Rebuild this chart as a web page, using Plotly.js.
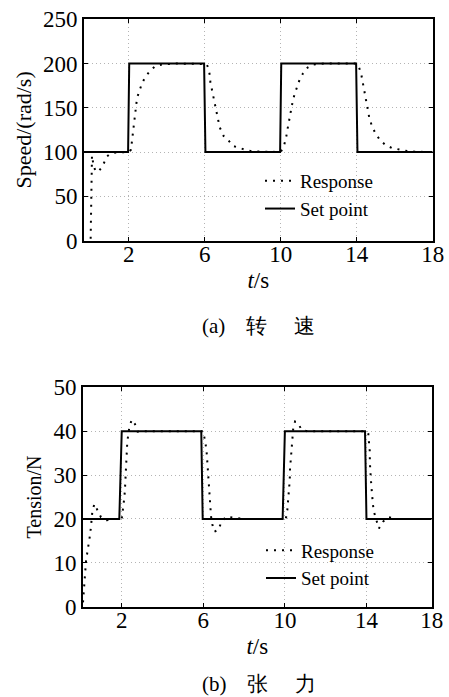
<!DOCTYPE html>
<html>
<head>
<meta charset="utf-8">
<script src="https://cdn.plot.ly/plotly-3.0.1.min.js"></script>
<style>html,body{margin:0;padding:0;background:#fff;}</style>
</head>
<body>
<div id="chart" style="width:449px;height:697px;"></div>
<script>
// ---- (a) Speed ----
const speedSetT = [-0.35, 1.97, 2.03, 5.97, 6.04, 9.97, 10.03, 13.97, 14.04, 18];
const speedSet  = [100, 100, 200, 200, 100, 100, 200, 200, 100, 100];

const speedRespT = [0, 0.02, 0.04, 0.06, 0.07, 0.1, 0.13, 0.18, 0.25, 0.35, 0.45, 0.6, 0.75, 0.86, 1.0, 1.13, 1.4, 1.7,
  2.0, 2.12, 2.21, 2.27, 2.32, 2.35, 2.4, 2.44, 2.58, 2.7, 2.88, 3.14, 3.4, 3.8, 4.5,
  6.0, 6.1, 6.18, 6.27, 6.3, 6.39, 6.47, 6.56, 6.65, 6.79, 7.0, 7.23, 7.47, 7.79, 8.14, 8.5, 9.0,
  10.0, 10.16, 10.28, 10.37, 10.46, 10.55, 10.63, 10.74, 10.86, 11.0, 11.18, 11.42, 11.74, 12.3,
  14.0, 14.1, 14.23, 14.32, 14.41, 14.5, 14.58, 14.67, 14.81, 14.99, 15.21, 15.51, 15.86, 16.3, 16.74, 17.3, 18];
const speedResp = [2, 25, 50, 75, 96, 92, 88, 82, 78, 78, 79, 83, 90, 95, 97.5, 98.7, 99.7, 100,
  100, 102.6, 118, 127, 136, 144, 151, 161, 170, 177.5, 185, 192, 197, 199, 200,
  200, 199.5, 195.5, 187, 179, 170, 161, 153, 144, 128, 118, 113.8, 107, 104.5, 102.6, 100.7, 100.2,
  100, 106, 115.7, 127, 138, 147.5, 157, 166, 174, 182, 189, 195.5, 199, 200,
  200, 197, 189, 179, 166, 157, 147.5, 138, 129, 121, 114, 108, 104.5, 102.6, 100.7, 100.2, 100];

// ---- (b) Tension ----
const tensSetT = [0, 1.88, 2.0, 5.9, 5.97, 9.89, 10.0, 13.93, 14.0, 17.2];
const tensSet  = [20, 20, 40, 40, 20, 20, 40, 40, 20, 20];

const tensRespT = [0.1, 0.14, 0.17, 0.2, 0.25, 0.3, 0.36, 0.41, 0.45, 0.49, 0.56, 0.66, 0.82, 0.98, 1.26, 1.6, 2.0,
  2.05, 2.11, 2.13, 2.16, 2.18, 2.2, 2.21, 2.24, 2.27, 2.32, 2.37, 2.49, 2.65, 2.78, 3.0,
  6.0, 6.08, 6.13, 6.17, 6.2, 6.21, 6.25, 6.28, 6.29, 6.33, 6.36, 6.38, 6.44, 6.54, 6.74, 6.87, 7.11, 7.47, 8.0,
  10.0, 10.05, 10.12, 10.17, 10.2, 10.24, 10.25, 10.28, 10.3, 10.33, 10.38, 10.41, 10.5, 10.66, 10.82, 11.1,
  14.0, 14.09, 14.12, 14.16, 14.17, 14.21, 14.22, 14.25, 14.28, 14.32, 14.37, 14.5, 14.61, 14.82, 15.07, 15.5, 17.2];
const tensResp = [1, 4, 7, 9, 10.5, 12, 13.5, 14.8, 16.5, 18.2, 21.8, 23.4, 21.8, 20.4, 19.7, 20, 20,
  21.6, 23.6, 25, 27, 28.9, 31.9, 33.8, 35.7, 37.4, 39.2, 40.9, 42.6, 41.6, 39.9, 40,
  40, 38, 36.5, 34.8, 32.8, 31.2, 29.3, 27.5, 25.8, 24.2, 22.4, 20.5, 18.8, 17.1, 17.5, 19.1, 20.5, 20.3, 20,
  20, 20.1, 22, 24.3, 26.6, 28.9, 31.2, 33.1, 35, 36.9, 38.8, 40.7, 42.2, 41.7, 40.3, 40,
  40, 39.5, 37.6, 35.7, 32.7, 30.8, 28.9, 27, 25, 23.2, 21.6, 19.4, 17.8, 19.4, 20.4, 20, 20];

const xTickValsTop = [2, 6, 10, 14, 18];
const xTickValsBot = [2, 6, 10, 14, 17.2];   // last label sits at the right end of the axis, as in the source
const xTickText = ['2', '6', '10', '14', '18'];
const seriesNames = ['Response', 'Set point'];
const yTitles = ['Speed/(rad/s)', 'Tension/N'];
const xTitle = '<i>t</i>/s';
const captions = ['(a)\u3000转\u3000\u00a0速', '(b)\u3000张\u3000\u00a0力'];

const respLine = {color: '#000', width: 2, dash: '2px,6px'};
const setLine = {color: '#000', width: 2};

const traces = [
  {x: speedRespT, y: speedResp, mode: 'lines', name: seriesNames[0], line: respLine, xaxis: 'x', yaxis: 'y', legend: 'legend'},
  {x: speedSetT, y: speedSet, mode: 'lines', name: seriesNames[1], line: setLine, xaxis: 'x', yaxis: 'y', legend: 'legend'},
  {x: tensRespT, y: tensResp, mode: 'lines', name: seriesNames[0], line: respLine, xaxis: 'x2', yaxis: 'y2', legend: 'legend2'},
  {x: tensSetT, y: tensSet, mode: 'lines', name: seriesNames[1], line: setLine, xaxis: 'x2', yaxis: 'y2', legend: 'legend2'},
  // empty traces that only carry the label-only x axes
  {x: [], y: [], xaxis: 'x3', yaxis: 'y', showlegend: false, hoverinfo: 'skip'},
  {x: [], y: [], xaxis: 'x4', yaxis: 'y2', showlegend: false, hoverinfo: 'skip'}
];

const fontFam = 'Liberation Serif';
const tickFont = {family: fontFam, size: 23, color: '#000'};
function axisBase() {
  return {
    showgrid: true, gridcolor: '#b4b4b4', griddash: '1px,3px', gridwidth: 1,
    zeroline: false, showline: true, linecolor: '#000', linewidth: 2, mirror: 'ticks',
    ticks: 'inside', ticklen: 4, tickwidth: 1, tickcolor: '#000',
    tickfont: tickFont
  };
}
function labelAxis(over, range, tickvals, pos) {
  return {
    overlaying: over, anchor: 'free', position: pos, range: range,
    tickmode: 'array', tickvals: tickvals, ticktext: xTickText,
    showgrid: false, zeroline: false, showline: false, ticks: '',
    tickfont: tickFont,
    title: {text: xTitle, font: {family: fontFam, size: 23}, standoff: 5}
  };
}

const W = 449, H = 697;
const topBottom = 240.5, topTop = 19.3, botBottom = 606.7, botTop = 387.3;
const xRangeTop = [-0.35, 18], xRangeBot = [0.1, 17.2];

const layout = {
  width: W, height: H,
  margin: {l: 0, r: 0, t: 0, b: 0},
  paper_bgcolor: '#fff', plot_bgcolor: '#fff',
  font: {family: fontFam, color: '#000'},
  showlegend: true,
  xaxis: Object.assign(axisBase(), {
    domain: [84 / W, 432.7 / W], range: xRangeTop, anchor: 'y',
    tickmode: 'array', tickvals: xTickValsTop, showticklabels: false
  }),
  xaxis3: labelAxis('x', xRangeTop, xTickValsTop, 1 - topBottom / H + 2.5 / H),
  yaxis: Object.assign(axisBase(), {
    domain: [1 - topBottom / H, 1 - topTop / H], range: [0, 250], dtick: 50, anchor: 'x',
    title: {text: yTitles[0], font: {family: fontFam, size: 22}, standoff: 5}
  }),
  xaxis2: Object.assign(axisBase(), {
    domain: [83 / W, 431.7 / W], range: xRangeBot, anchor: 'y2',
    tickmode: 'array', tickvals: xTickValsBot, showticklabels: false
  }),
  xaxis4: labelAxis('x2', xRangeBot, xTickValsBot, 1 - botBottom / H + 2.5 / H),
  yaxis2: Object.assign(axisBase(), {
    domain: [1 - botBottom / H, 1 - botTop / H], range: [0, 50], dtick: 10, anchor: 'x2',
    title: {text: yTitles[1], font: {family: fontFam, size: 20}, standoff: 6}
  }),
  legend: {x: 260 / W, y: 1 - 162 / H, xanchor: 'left', yanchor: 'top',
    bgcolor: 'rgba(0,0,0,0)', borderwidth: 0, font: {family: fontFam, size: 19, color: '#000'}},
  legend2: {x: 261 / W, y: 1 - 531.5 / H, xanchor: 'left', yanchor: 'top',
    bgcolor: 'rgba(0,0,0,0)', borderwidth: 0, font: {family: fontFam, size: 19, color: '#000'}},
  annotations: [
    {xref: 'paper', yref: 'paper', x: 258.5 / W, y: 1 - 326 / H, xanchor: 'center', yanchor: 'middle',
      text: captions[0], showarrow: false, font: {family: fontFam, size: 21, color: '#000'}},
    {xref: 'paper', yref: 'paper', x: 258.5 / W, y: 1 - 684 / H, xanchor: 'center', yanchor: 'middle',
      text: captions[1], showarrow: false, font: {family: fontFam, size: 21, color: '#000'}}
  ]
};

Plotly.newPlot('chart', traces, layout, {staticPlot: true, displayModeBar: false});
</script>
</body>
</html>
